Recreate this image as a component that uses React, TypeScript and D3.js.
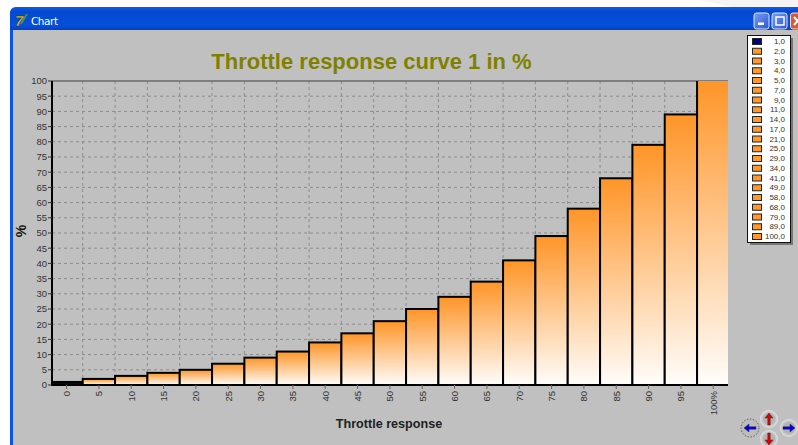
import React from "react";
import * as d3 from "d3";

const categories = ["0","5","10","15","20","25","30","35","40","45","50","55","60","65","70","75","80","85","90","95","100%"];
const values = [1,2,3,4,5,7,9,11,14,17,21,25,29,34,41,49,58,68,79,89,100];
const yTicks = d3.range(0, 101, 5);
const titleText = "Throttle response curve 1 in %";
const xTitle = "Throttle response";
const yTitle = "%";

const W = 798, H = 445;
const FONT = "'Liberation Sans', Arial, sans-serif";

export default function App() {
  const x = d3.scaleBand<string>().domain(categories).range([50.4, 729.4]).padding(0);
  const y = d3.scaleLinear().domain([0, 100]).range([385, 81]);
  const axisLeft = 52;
  const axisRight = 728;
  const legendRow = d3.scaleLinear().domain([0, values.length - 1]).range([41.5, 236.5]);
  const bw = x.bandwidth();

  const arrow = (cx: number, cy: number, dir: string, fill: string) => {
    const r = dir === "l" ? 180 : dir === "r" ? 0 : dir === "u" ? -90 : 90;
    return (
      <g transform={`translate(${cx},${cy}) rotate(${r})`}>
        <path d="M-6,-1.2 H1 V-4 L6,0 L1,4 V1.2 H-6 Z" fill={fill} stroke="#333" strokeWidth={0.5} />
      </g>
    );
  };

  return (
    <svg width={W} height={H} style={{ position: "fixed", left: 0, top: 0, display: "block" }} fontFamily={FONT}>
      <defs>
        <clipPath id="plot"><rect x={51} y={81} width={677} height={305} /></clipPath>
        <linearGradient id="bar" x1="0" x2="0" y1="0" y2="1">
          <stop offset="0" stopColor="#ff9528" />
          <stop offset="1" stopColor="#fffdfb" />
        </linearGradient>
        <linearGradient id="navy" x1="0" x2="0" y1="0" y2="1">
          <stop offset="0" stopColor="#000070" />
          <stop offset="1" stopColor="#000030" />
        </linearGradient>
        <linearGradient id="titlebar" x1="0" x2="0" y1="0" y2="1">
          <stop offset="0" stopColor="#0a5ce8" />
          <stop offset="0.2" stopColor="#0548cf" />
          <stop offset="0.8" stopColor="#0450dc" />
          <stop offset="1" stopColor="#0440c0" />
        </linearGradient>
        <linearGradient id="btn" x1="0" x2="1" y1="0" y2="1">
          <stop offset="0" stopColor="#7a9ff0" />
          <stop offset="1" stopColor="#2a55d5" />
        </linearGradient>
        <radialGradient id="navbtn">
          <stop offset="0.6" stopColor="#b4b4b4" />
          <stop offset="1" stopColor="#e4e4e4" />
        </radialGradient>
      </defs>

      {/* Window chrome */}
      <rect width={W} height={H} fill="#fff" />
      <path d="M700,0 L798,22 V0 Z" fill="#f4f4f4" />
      <path d="M10,445 V14 Q10,7 17,7 H798 V445 Z" fill="#0a54e6" />
      <path d="M10,30 V14 Q10,7 17,7 H798 V30 Z" fill="url(#titlebar)" />
      <rect x={13} y={30} width={785} height={415} fill="#c0c0c0" />
      <text x={31} y={25} fontSize={10.5} fill="#fff" fontFamily="'DejaVu Sans', sans-serif" textLength={27}>Chart</text>
      <text x={15} y={26} fontSize={15} fontWeight={700} fontStyle="italic" fill="#e0c020" stroke="#224" strokeWidth={0.3}>7</text>
      <path d="M21,24 L27,14" stroke="#40a040" strokeWidth={1.6} fill="none" />

      <rect x={754} y={13} width={15} height={16} rx={2.5} fill="url(#btn)" stroke="#dbe6fb" />
      <rect x={758} y={22.5} width={6} height={2.5} fill="#fff" />
      <rect x={772} y={13} width={15} height={16} rx={2.5} fill="url(#btn)" stroke="#dbe6fb" />
      <rect x={776} y={17} width={8} height={8} fill="none" stroke="#fff" strokeWidth={1.5} />
      <rect x={790.5} y={13} width={15} height={16} rx={2.5} fill="#d8583a" stroke="#f0dcd8" />
      <path d="M794,17 L801,25 M801,17 L794,25" stroke="#fff" strokeWidth={2} />

      {/* Title */}
      <text x={371.5} y={69} textAnchor="middle" fontSize={22} fontWeight={700} fill="#808000">{titleText}</text>

      {/* Grid */}
      {yTicks.filter(t => t > 0 && t < 100).map(t => (
        <line key={t} x1={axisLeft} x2={axisRight} y1={y(t)} y2={y(t)} stroke="#8c8c8c" strokeWidth={1} strokeDasharray="3 3" />
      ))}
      {categories.slice(1).map(c => (
        <line key={c} x1={x(c)!} x2={x(c)!} y1={y(100)} y2={y(0)} stroke="#8c8c8c" strokeWidth={1} strokeDasharray="3 3" />
      ))}
      <line x1={axisLeft} x2={axisRight} y1={y(100)} y2={y(100)} stroke="#6a6a6a" strokeWidth={1.5} />

      {/* Bars */}
      <g clipPath="url(#plot)">
        {categories.map((c, i) => {
          const left = Math.max(x(c)!, axisLeft);
          const right = x(c)! + bw;
          const top = i === categories.length - 1 ? y(values[i]) - 2 : y(values[i]);
          return (
            <rect key={c} x={left} width={right - left} y={top} height={y(0) - top}
              fill={i === 0 ? "url(#navy)" : "url(#bar)"} stroke="#000" strokeWidth={2} />
          );
        })}
      </g>

      {/* Y axis */}
      <line x1={axisLeft} x2={axisLeft} y1={y(100)} y2={y(0) + 1} stroke="#000" strokeWidth={2} />
      {yTicks.map(t => (
        <g key={t}>
          <line x1={axisLeft - 4} x2={axisLeft} y1={y(t)} y2={y(t)} stroke="#333" strokeWidth={1} />
          <text x={axisLeft - 5} y={y(t) + 3.3} textAnchor="end" fontSize={9.5} fill="#333">{t}</text>
        </g>
      ))}
      <text transform={`translate(25.5,${(y(0) + y(100)) / 2 - 2}) rotate(-90)`} textAnchor="middle" fontSize={14} fontWeight={700} fill="#111">{yTitle}</text>

      {/* X axis */}
      <line x1={axisLeft} x2={axisRight} y1={y(0)} y2={y(0)} stroke="#000" strokeWidth={2} />
      {categories.map(c => {
        const cx = x(c)! + bw / 2;
        return (
          <g key={c}>
            <line x1={cx} x2={cx} y1={y(0)} y2={y(0) + 4} stroke="#666" strokeWidth={1} />
            <text transform={`translate(${cx + 3.3},${y(0) + 6}) rotate(-90)`} textAnchor="end" fontSize={9.5} fill="#333">{c}</text>
          </g>
        );
      })}
      <text x={389} y={428} textAnchor="middle" fontSize={12.6} fontWeight={700} fill="#222">{xTitle}</text>

      {/* Legend */}
      <rect x={750} y={38} width={43} height={207} fill="#777" />
      <rect x={747.5} y={35.5} width={43} height={207} fill="#fff" stroke="#111" strokeWidth={1} />
      {values.map((v, i) => (
        <g key={i}>
          <rect x={752.5} y={legendRow(i) - 3} width={9} height={6} fill={i === 0 ? "#000080" : "#ff9a28"} stroke="#222" strokeWidth={1} />
          <text x={785} y={legendRow(i) + 2.7} textAnchor="end" fontSize={8} fill="#333">{`${v},0`}</text>
        </g>
      ))}

      {/* Navigation */}
      <circle cx={750} cy={428} r={9} fill="#bcbcbc" stroke="#333" strokeWidth={0.7} strokeDasharray="1.5 1.5" />
      <circle cx={769} cy={419} r={9} fill="url(#navbtn)" />
      <circle cx={789} cy={428} r={9} fill="url(#navbtn)" />
      <circle cx={769} cy={439} r={9} fill="url(#navbtn)" />
      {arrow(750, 428, "l", "#0000e0")}
      {arrow(769, 419, "u", "#e00000")}
      {arrow(789, 428, "r", "#0000e0")}
      {arrow(769, 439, "d", "#e00000")}
    </svg>
  );
}
